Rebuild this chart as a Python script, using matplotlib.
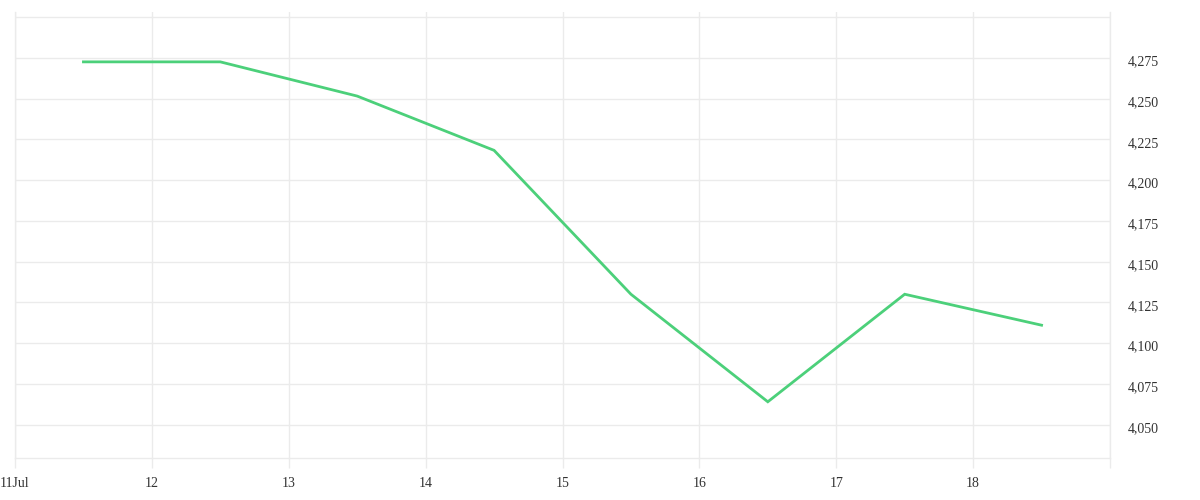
import matplotlib
matplotlib.use("Agg")
import matplotlib.pyplot as plt
import matplotlib.transforms as mtransforms
import pandas as pd

# Data
dates = ["2024-07-11 12:00", "2024-07-12 12:00", "2024-07-13 12:00", "2024-07-14 12:00",
         "2024-07-15 12:00", "2024-07-16 12:00", "2024-07-17 12:00", "2024-07-18 12:00"]
values = [4272.6, 4272.6, 4251.6, 4218.3, 4130.0, 4064.0, 4130.0, 4111.0]
tick_dates = ["2024-07-11", "2024-07-12", "2024-07-13", "2024-07-14", "2024-07-15",
              "2024-07-16", "2024-07-17", "2024-07-18", "2024-07-19"]
tick_labels = ["11Jul", "12", "13", "14", "15", "16", "17", "18", ""]
y_ticks = [4050, 4075, 4100, 4125, 4150, 4175, 4200, 4225, 4250, 4275, 4300]
y_labels = ["4,050", "4,075", "4,100", "4,125", "4,150", "4,175", "4,200", "4,225", "4,250", "4,275", ""]

x = pd.to_datetime(dates)
xt = pd.to_datetime(tick_dates)

fig = plt.figure(figsize=(12, 5), dpi=100)
ax = fig.add_axes([15/1200, 1 - 458/500, (1110 - 15)/1200, (458 - 12)/500])

grid_c = "#ebebeb"
ax.plot(x, values, color="#4cd07a", linewidth=2.0, solid_joinstyle="miter", zorder=3)

ax.set_xlim(xt[0], xt[-1])
ax.set_ylim(4029.5, 4303.2)

ax.set_xticks(xt)
ax.set_xticklabels(tick_labels)
ax.set_yticks(y_ticks)
ax.set_yticklabels(y_labels)

ax.yaxis.tick_right()
ax.grid(True, color=grid_c, linewidth=1.0, zorder=0)
ax.tick_params(axis="x", length=7.2, width=1.0, color=grid_c, pad=6.5,
               labelsize=10, labelcolor="#333333")
ax.tick_params(axis="y", length=0, pad=12.5, labelsize=10, labelcolor="#333333")
for lab in ax.get_xticklabels() + ax.get_yticklabels():
    lab.set_fontfamily("Liberation Serif")
shift = mtransforms.ScaledTranslation(0, -4 / 100, fig.dpi_scale_trans)
for lab in ax.get_yticklabels():
    lab.set_verticalalignment("center")
    lab.set_transform(lab.get_transform() + shift)

ax.spines["top"].set_visible(False)
for s in ["left", "right", "bottom"]:
    ax.spines[s].set_color(grid_c)
    ax.spines[s].set_linewidth(1.0)

fig.savefig("out.png", dpi=100, facecolor="white")
